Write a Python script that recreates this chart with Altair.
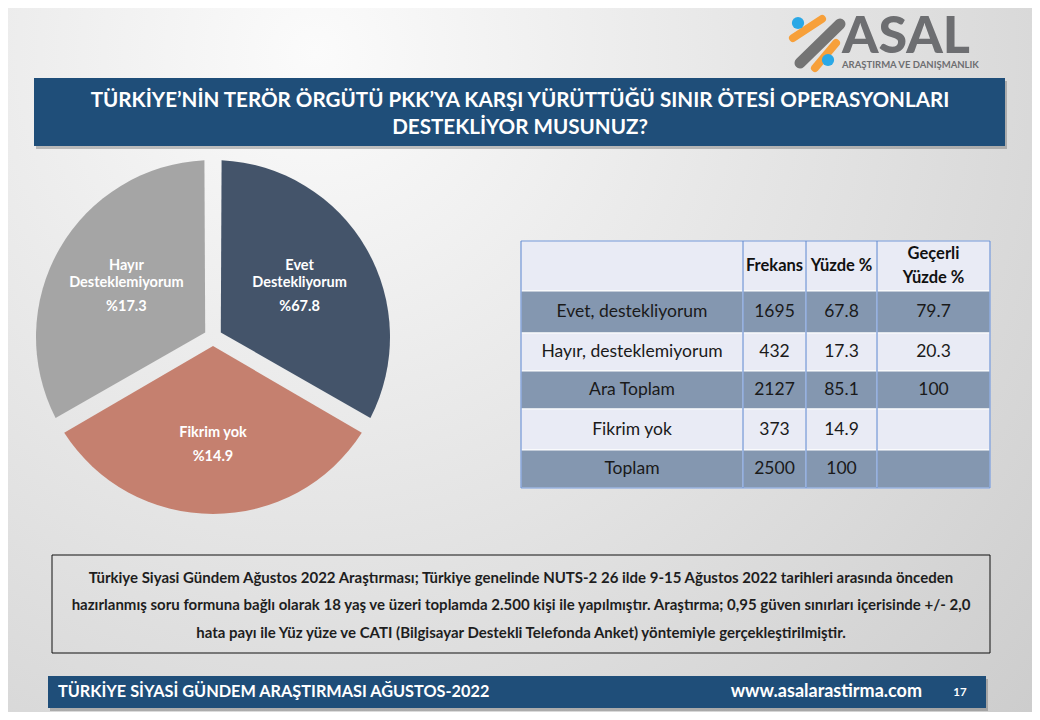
import altair as alt
import pandas as pd

# ------------------------------------------------------------------ data
title_lines = [
    "TÜRKİYE’NİN TERÖR ÖRGÜTÜ PKK’YA KARŞI YÜRÜTTÜĞÜ SINIR ÖTESİ OPERASYONLARI",
    "DESTEKLİYOR MUSUNUZ?",
]
pie_names = ["Evet\nDestekliyorum", "Fikrim yok", "Hayır\nDesteklemiyorum"]
pie_pct = [67.8, 14.9, 17.3]
# the reference picture draws the three slices with (nearly) equal angles
pie_drawn_angle = [120, 120, 120]
pie_colors = ["#44546A", "#C5806F", "#A5A5A5"]

table_header = ["", "Frekans", "Yüzde %", "Geçerli\nYüzde %"]
row_labels = ["Evet, destekliyorum", "Hayır, desteklemiyorum", "Ara Toplam", "Fikrim yok", "Toplam"]
frekans = [1695, 432, 2127, 373, 2500]
yuzde = [67.8, 17.3, 85.1, 14.9, 100]
gecerli = [79.7, 20.3, 100, None, None]

note_lines = [
    "Türkiye Siyasi Gündem Ağustos 2022 Araştırması; Türkiye genelinde NUTS-2 26 ilde 9-15 Ağustos 2022 tarihleri arasında önceden",
    "hazırlanmış soru formuna bağlı olarak 18 yaş ve üzeri toplamda 2.500 kişi ile yapılmıştır. Araştırma; 0,95 güven sınırları içerisinde +/- 2,0",
    "hata payı ile Yüz yüze ve CATI (Bilgisayar Destekli Telefonda Anket) yöntemiyle gerçekleştirilmiştir.",
]
footer_left = "TÜRKİYE SİYASİ GÜNDEM ARAŞTIRMASI AĞUSTOS-2022"
footer_url = "www.asalarastirma.com"
page_no = "17"
logo_name = "ASAL"
logo_sub = "ARAŞTIRMA VE DANIŞMANLIK"

# ------------------------------------------------------------------ style / layout
FONT = "Lato"
W, H = 1024, 704
NAVY = "#1F4E79"
col_edges = [513, 735, 798, 869, 982]
row_edges = [233, 283, 325, 363, 401, 442, 480]
PIE_X, PIE_Y = 205, 329

xs = alt.Scale(domain=[0, W], range=[0, W], nice=False, zero=False)
ys = alt.Scale(domain=[0, H], range=[0, H], nice=False, zero=False)

one = pd.DataFrame({"a": [0]})


def box(x, y, x2, y2, **kw):
    return alt.Chart(one).mark_rect(**kw).encode(
        x=alt.value(x), x2=alt.value(x2), y=alt.value(y), y2=alt.value(y2))


def txt(s, x, y, **kw):
    kw.setdefault("font", FONT)
    return alt.Chart(pd.DataFrame({"t": [s]})).mark_text(**kw).encode(
        x=alt.value(x), y=alt.value(y), text="t:N")


def bar(x, y, x2, y2, **kw):
    return alt.Chart(one).mark_rule(strokeCap="round", **kw).encode(
        x=alt.value(x), x2=alt.value(x2), y=alt.value(y), y2=alt.value(y2))


def dot(x, y, **kw):
    return alt.Chart(one).mark_circle(opacity=1, **kw).encode(x=alt.value(x), y=alt.value(y))


def fmt(v):
    return "" if v is None else f"{v:g}"


def split2(s):
    parts = s.split("\n")
    return ("", parts[0]) if len(parts) == 1 else (parts[0], parts[1])


layers = []

# background
bg = box(0, 0, W, H, fill={
    "gradient": "radial", "x1": 0.3, "y1": 0.2, "r1": 0.0,
    "x2": 0.3, "y2": 0.2, "r2": 0.95,
    "stops": [{"offset": 0, "color": "#fbfbfb"}, {"offset": 1, "color": "#cdcdcd"}]})
layers.append(bg)

# logo
layers += [
    bar(785, 30, 814, 11, stroke="#F7A03A", strokeWidth=8),
    bar(792, 55, 832, 16, stroke="#747474", strokeWidth=11),
    bar(807, 60, 828, 35, stroke="#F7A03A", strokeWidth=8),
    dot(790, 15, size=150, color="#2AA8E6"),
    dot(820, 52, size=150, color="#2AA8E6"),
    txt(logo_name, 834, 45, fontSize=52, fontWeight=900, color="#6D6E71", align="left", baseline="alphabetic"),
    txt(logo_sub, 834, 57, fontSize=9.5, fontWeight="bold", color="#6D6E71", align="left", baseline="middle"),
]

# title banner
layers += [
    box(28, 73, 999, 141, fill="#555555", opacity=0.35),
    box(26, 70, 997, 138, fill=NAVY),
    txt(title_lines[0], 512, 93, fontSize=20.6, fontWeight="bold", color="white", baseline="middle"),
    txt(title_lines[1], 512, 120, fontSize=20.6, fontWeight="bold", color="white", baseline="middle"),
]

# pie
pie_df = pd.DataFrame({
    "idx": list(range(len(pie_names))),
    "name": pie_names,
    "top": [split2(s)[0] for s in pie_names],
    "bot": [split2(s)[1] for s in pie_names],
    "ang": pie_drawn_angle,
    "pct": ["%" + fmt(v) for v in pie_pct],
})
pie_base = alt.Chart(pie_df).encode(
    theta=alt.Theta("ang:Q", stack=True),
    order=alt.Order("idx:Q"),
    x=alt.value(PIE_X), y=alt.value(PIE_Y),
)
pie = pie_base.mark_arc(outerRadius=177, innerRadius=9, padAngle=0.097).encode(
    color=alt.Color("name:N", scale=alt.Scale(domain=pie_names, range=pie_colors), legend=None))
lab_kw = dict(radius=100, font=FONT, fontSize=14.5, fontWeight="bold", color="white", baseline="middle")
pie_l1 = pie_base.mark_text(dy=-21, **lab_kw).encode(text="top:N")
pie_l2 = pie_base.mark_text(dy=-4, **lab_kw).encode(text="bot:N")
pie_pc = pie_base.mark_text(dy=20, **lab_kw).encode(text="pct:N")
layers += [pie, pie_l1, pie_l2, pie_pc]

# table
cells = []
for r in range(len(row_labels) + 1):
    if r == 0:
        vals = table_header
        band = "light"
    else:
        i = r - 1
        vals = [row_labels[i], fmt(frekans[i]), fmt(yuzde[i]), fmt(gecerli[i])]
        band = "dark" if i % 2 == 0 else "light"
    for c in range(4):
        t1, t2 = split2(vals[c])
        cells.append({
            "row": r, "col": c, "t": vals[c], "t1": t1, "t2": t2, "band": band,
            "x0": col_edges[c], "x1": col_edges[c + 1],
            "y0": row_edges[r], "y1": row_edges[r + 1],
            "xc": (col_edges[c] + col_edges[c + 1]) / 2,
            "yc": (row_edges[r] + row_edges[r + 1]) / 2,
        })
cells = pd.DataFrame(cells)
head = cells[cells.row == 0]

cell_rects = alt.Chart(cells).mark_rect(stroke="white", strokeWidth=1).encode(
    x=alt.X("x0:Q", scale=xs, axis=None), x2="x1:Q",
    y=alt.Y("y0:Q", scale=ys, axis=None), y2="y1:Q",
    fill=alt.Fill("band:N", scale=alt.Scale(domain=["dark", "light"], range=["#8497B0", "#E9EBF5"]), legend=None),
)
vlines = alt.Chart(pd.DataFrame({"xe": col_edges, "yt": row_edges[0], "yb": row_edges[-1]})).mark_rule(
    color="#6A8FD2", strokeWidth=1.2).encode(
    x=alt.X("xe:Q", scale=xs, axis=None), y=alt.Y("yt:Q", scale=ys, axis=None), y2="yb:Q")
hlines = alt.Chart(pd.DataFrame({"ye": [row_edges[0], row_edges[-1]], "xl": col_edges[0], "xr": col_edges[-1]})).mark_rule(
    color="#6A8FD2", strokeWidth=1.2).encode(
    y=alt.Y("ye:Q", scale=ys, axis=None), x=alt.X("xl:Q", scale=xs, axis=None), x2="xr:Q")
head_kw = dict(font=FONT, fontSize=16.5, fontWeight="bold", color="#111111", baseline="middle")
head_single = alt.Chart(head[head.t1 == ""]).mark_text(**head_kw).encode(
    x=alt.X("xc:Q", scale=xs, axis=None), y=alt.Y("yc:Q", scale=ys, axis=None), text="t2:N")
head_top = alt.Chart(head[head.t1 != ""]).mark_text(dy=-12, **head_kw).encode(
    x=alt.X("xc:Q", scale=xs, axis=None), y=alt.Y("yc:Q", scale=ys, axis=None), text="t1:N")
head_bot = alt.Chart(head[head.t1 != ""]).mark_text(dy=12, **head_kw).encode(
    x=alt.X("xc:Q", scale=xs, axis=None), y=alt.Y("yc:Q", scale=ys, axis=None), text="t2:N")
body_txt = alt.Chart(cells[cells.row > 0]).mark_text(
    font=FONT, fontSize=17.5, color="#1A1A1A", baseline="middle").encode(
    x=alt.X("xc:Q", scale=xs, axis=None), y=alt.Y("yc:Q", scale=ys, axis=None), text="t:N")
layers += [cell_rects, vlines, hlines, head_single, head_top, head_bot, body_txt]

# note box
layers.append(box(44, 547, 982, 645, fill="transparent", stroke="#111111", strokeWidth=1))
for line, yy in zip(note_lines, [570, 597, 625]):
    layers.append(txt(line, 513, yy, fontSize=15, fontWeight="bold", color="#1E1E1E", baseline="middle"))

# footer
layers += [
    box(42, 671, 980, 703, fill="#555555", opacity=0.35),
    box(40, 668, 978, 700, fill=NAVY),
    txt(footer_left, 50, 684, fontSize=16.3, fontWeight="bold", color="white", align="left", baseline="middle"),
    txt(footer_url, 914, 684, fontSize=18, fontWeight="bold", color="white", align="right", baseline="middle"),
    txt(page_no, 952, 685, fontSize=11.5, fontWeight="bold", color="white", baseline="middle"),
]

chart = alt.layer(*layers).properties(
    width=W, height=H, padding=0, autosize="none"
).configure_view(stroke=None)

chart.save("out.html", embed_options={"renderer": "svg", "actions": False})
